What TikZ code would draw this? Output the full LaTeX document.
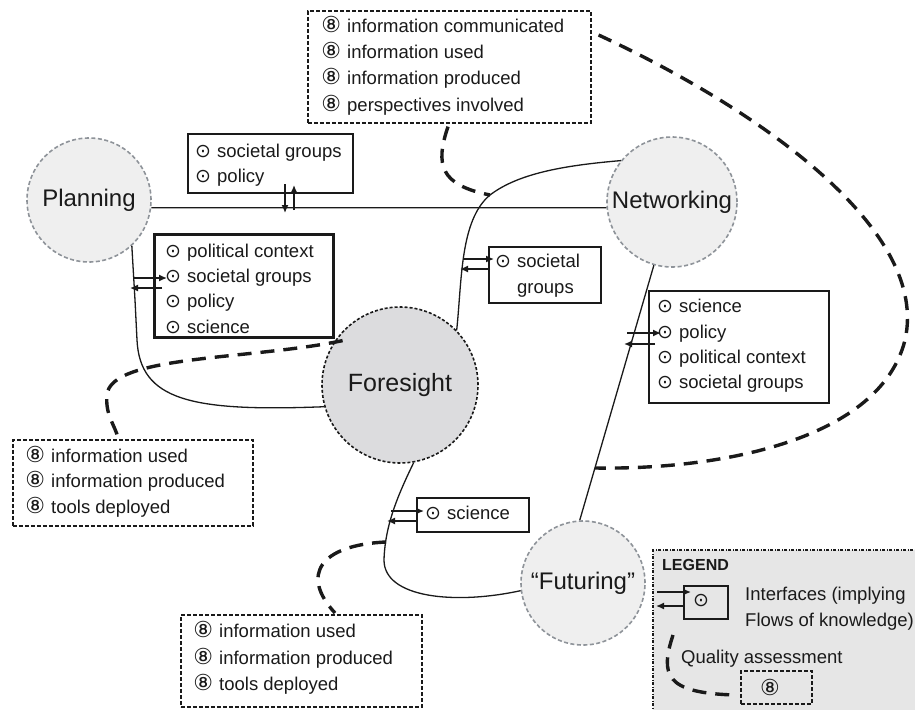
\documentclass[tikz,border=0pt]{standalone}
\usepackage{fontspec}
\setmainfont{Liberation Sans}
\newfontfamily\symf{DejaVu Sans}
\usetikzlibrary{arrows.meta,calc}
\definecolor{lightfill}{HTML}{EFEFEF}
\definecolor{darkfill}{HTML}{DCDCDE}
\definecolor{legfill}{HTML}{E6E6E6}
\definecolor{circgray}{HTML}{8E9399}
\definecolor{ink}{HTML}{1A1A1A}
\newcommand\CD{\makebox[14pt][c]{\symf\fontsize{19}{19}\selectfont ⊙}\hspace{7pt}}
\newcommand\QE{\makebox[16pt][c]{\symf\fontsize{22}{22}\selectfont ⑧}\hspace{8pt}}
\tikzset{
  lightcirc/.style={circle, draw=circgray, fill=lightfill, line width=1.6pt, dash pattern=on 4pt off 2.5pt, inner sep=0pt, text=ink, font=\fontsize{24}{24}\selectfont},
  darkcirc/.style={circle, draw=ink, fill=darkfill, line width=1.6pt, dash pattern=on 3pt off 2pt, inner sep=0pt, text=ink, font=\fontsize{25}{24}\selectfont},
  sbox/.style={draw=ink, line width=1.6pt, fill=white, inner sep=0pt, anchor=north west},
  dbox/.style={draw=ink, line width=1.6pt, dash pattern=on 4pt off 2pt, fill=white, inner sep=0pt, anchor=north west},
  txt/.style={anchor=west, inner sep=0pt, text=ink, text height=11pt, text depth=0pt, font=\fontsize{18.5}{22}\selectfont},
  conn/.style={draw=ink, line width=1.3pt},
  qa/.style={draw=ink, line width=3.4pt, dash pattern=on 14pt off 9pt},
  arr/.style={draw=ink, line width=1.4pt, -{Latex[length=8pt,width=7pt]}},
}
\begin{document}
\begin{tikzpicture}[x=1pt,y=-1pt]
\useasboundingbox (0,0) rectangle (915,709);
\fill[white] (0,0) rectangle (915,709);

% legend background
\fill[legfill] (653,550) rectangle (925,720);
\draw[ink, line width=1.5pt, dash pattern=on 3pt off 1.5pt on 1pt off 1.5pt] (653,720) -- (653,550) -- (925,550);

% circles
\node[lightcirc, minimum size=124pt] (plan) at (89,200) {Planning};
\node[lightcirc, minimum size=130pt] (net) at (672,202) {Networking};
\node[darkcirc, minimum size=156pt] (fore) at (400,385) {Foresight};
\node[lightcirc, minimum size=124pt] (fut) at (583,583) {“Futuring”};

% connectors
\draw[conn] (plan.-7) -- (net.185);
\draw[conn] (plan.-47) -- (135,300) -- (137,340) .. controls (140,400) and (190,412) .. (fore.196);
\draw[conn] (fore.44) .. controls (462,280) and (460,220) .. (490,195) coordinate (fnj) .. controls (520,172) and (570,165) .. (net.141);
\draw[conn] (net.-106) -- (fut.93);
\draw[conn] (fore.-80) .. controls (398,495) and (385,525) .. (384,560) .. controls (384,598) and (455,605) .. (fut.187);

% solid boxes
\node[sbox, minimum width=165pt, minimum height=59pt] (b1) at (187,133) {};
\node[sbox, minimum width=179pt, minimum height=103pt, line width=2.6pt] (b2) at (153,233) {};
\node[sbox, minimum width=112pt, minimum height=56pt] (b3) at (488,246) {};
\node[sbox, minimum width=180pt, minimum height=112pt] (b4) at (648,290) {};
\node[sbox, minimum width=112pt, minimum height=34pt] (b5) at (416,497) {};

% dashed boxes
\node[dbox, minimum width=283pt, minimum height=112pt] (d1) at (307,10) {};
\node[dbox, minimum width=240pt, minimum height=86pt] (d2) at (12,439) {};
\node[dbox, minimum width=241pt, minimum height=92pt] (d3) at (180,614) {};

% texts
\node[txt] (b1a) at (196,152) {\CD societal groups};
\node[txt] (b1b) at (196,177) {\CD policy};
\node[txt] (b2a) at (166,252) {\CD political context};
\node[txt] (b2b) at (166,277) {\CD societal groups};
\node[txt] (b2c) at (166,302) {\CD policy};
\node[txt] (b2d) at (166,328) {\CD science};
\node[txt] (b3a) at (496,262) {\CD societal};
\node[txt] (b3b) at (517,288) {groups};
\node[txt] (b4a) at (658,307) {\CD science};
\node[txt] (b4b) at (658,333) {\CD policy};
\node[txt] (b4c) at (658,358) {\CD political context};
\node[txt] (b4d) at (658,383) {\CD societal groups};
\node[txt] (b5a) at (426,514) {\CD science};
\node[txt] (d1a) at (323,27) {\QE information communicated};
\node[txt] (d1b) at (323,53) {\QE information used};
\node[txt] (d1c) at (323,79) {\QE information produced};
\node[txt] (d1d) at (323,106) {\QE perspectives involved};
\node[txt] (d2a) at (27,457) {\QE information used};
\node[txt] (d2b) at (27,482) {\QE information produced};
\node[txt] (d2c) at (27,508) {\QE tools deployed};
\node[txt] (d3a) at (195,632) {\QE information used};
\node[txt] (d3b) at (195,659) {\QE information produced};
\node[txt] (d3c) at (195,685) {\QE tools deployed};

% interface arrows
\coordinate (a1s) at (285,184); \coordinate (a1e) at (285,213);
\coordinate (a2s) at (294,210); \coordinate (a2e) at (294,185);
\draw[arr] (a1s) -- (a1e);
\draw[arr] (a2s) -- (a2e);
\coordinate (a3s) at (133,278); \coordinate (a3e) at (167,278);
\coordinate (a4s) at (162,288); \coordinate (a4e) at (130,288);
\draw[arr] (a3s) -- (a3e);
\draw[arr] (a4s) -- (a4e);
\coordinate (a5s) at (463,259); \coordinate (a5e) at (494,259);
\coordinate (a6s) at (490,269); \coordinate (a6e) at (460,269);
\draw[arr] (a5s) -- (a5e);
\draw[arr] (a6s) -- (a6e);
\coordinate (a7s) at (627,333); \coordinate (a7e) at (661,333);
\coordinate (a8s) at (655,344); \coordinate (a8e) at (624,344);
\draw[arr] (a7s) -- (a7e);
\draw[arr] (a8s) -- (a8e);
\coordinate (a9s) at (391,511); \coordinate (a9e) at (424,511);
\coordinate (a10s) at (417,521); \coordinate (a10e) at (387,521);
\draw[arr] (a9s) -- (a9e);
\draw[arr] (a10s) -- (a10e);

% quality assessment curves
\draw[qa] ($(d1.south west)+(141,3)$) .. controls (435,165) and (440,185) .. (fnj);
\draw[qa] ($(d1.north east)+(7,25)$) .. controls (760,110) and (930,230) .. (905,340) .. controls (880,440) and (720,470) .. (595,468);
\draw[qa] ($(b2.south east)+(8,2)$) .. controls (250,360) and (110,355) .. (107,395) .. controls (105,415) and (115,425) .. ($(d2.north west)+(106,-1)$);
\draw[qa] (386,542) .. controls (320,545) and (300,575) .. ($(d3.north west)+(155,-1)$);

% legend
\node[anchor=west, inner sep=0pt, text=ink, font=\bfseries\fontsize{16}{16}\selectfont] (legt) at (662,565) {LEGEND};
\node[sbox, minimum width=44pt, minimum height=33pt, fill=none, line width=1.6pt] (lbox) at (683,585) {};
\node[inner sep=0pt, text=ink] (lsym) at (701,601) {\symf\fontsize{19}{19}\selectfont ⊙};
\coordinate (la1) at (657,592); \coordinate (la2) at (691,592);
\coordinate (la3) at (683,606); \coordinate (la4) at (656,606);
\draw[arr] (la1) -- (la2);
\draw[arr] (la3) -- (la4);
\node[txt] (lt1) at (745,595) {Interfaces (implying};
\node[txt] (lt2) at (745,621) {Flows of knowledge)};
\node[txt] (lt3) at (681,658) {Quality assessment};
\node[dbox, minimum width=71pt, minimum height=33pt, fill=none] (lq) at (740,670) {};
\node[inner sep=0pt, text=ink] (lqs) at (770,687) {\symf\fontsize{22}{22}\selectfont ⑧};
\draw[qa] (673,635) .. controls (660,675) and (665,693) .. (735,695);
\end{tikzpicture}
\end{document}
